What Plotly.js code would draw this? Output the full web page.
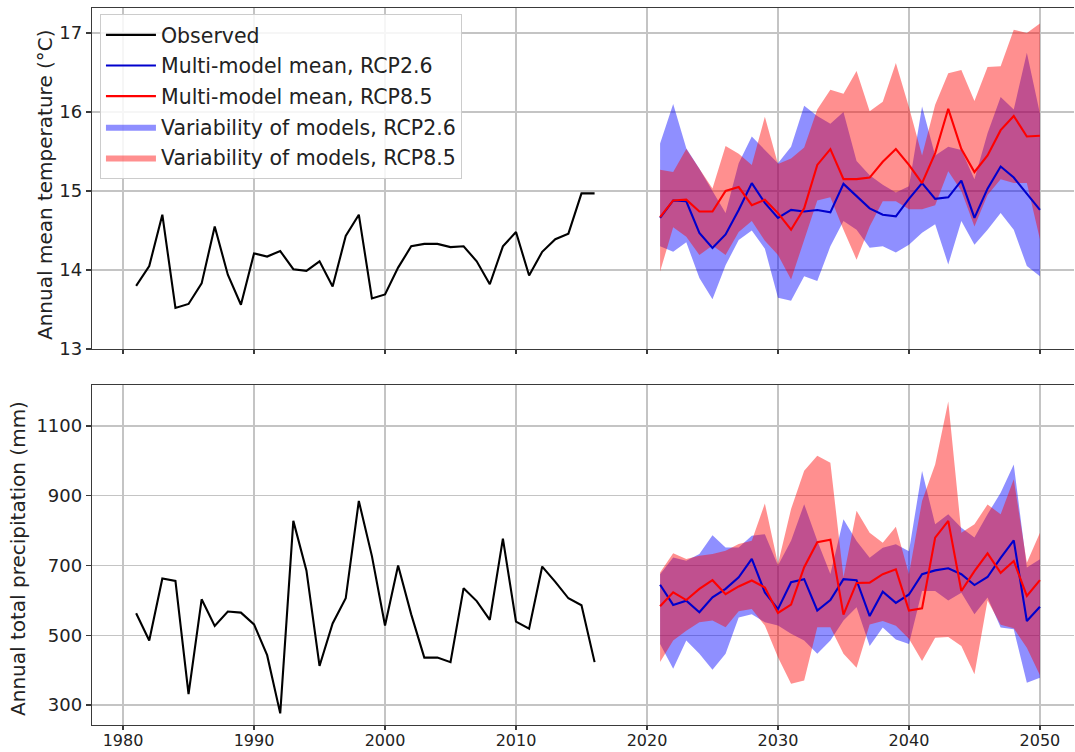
<!DOCTYPE html>
<html>
<head>
<meta charset="utf-8">
<script src="https://cdn.plot.ly/plotly-3.0.1.min.js"></script>
<style>
html, body { margin: 0; padding: 0; background: #ffffff; }
#chart { width: 1075px; height: 752px; }
</style>
</head>
<body>
<div id="chart"></div>
<script>
// ---------- Observed (1981-2016) ----------
const obsYears = [1981, 1982, 1983, 1984, 1985, 1986, 1987, 1988, 1989, 1990,
                  1991, 1992, 1993, 1994, 1995, 1996, 1997, 1998, 1999, 2000,
                  2001, 2002, 2003, 2004, 2005, 2006, 2007, 2008, 2009, 2010,
                  2011, 2012, 2013, 2014, 2015, 2016];
const obsTemp = [13.80, 14.05, 14.70, 13.52, 13.57, 13.83, 14.55, 13.94, 13.56, 14.21,
                 14.17, 14.24, 14.01, 13.99, 14.11, 13.79, 14.43, 14.70, 13.64, 13.69,
                 14.03, 14.30, 14.33, 14.33, 14.29, 14.30, 14.11, 13.82, 14.30, 14.48,
                 13.93, 14.23, 14.39, 14.46, 14.97, 14.97];
const obsPrecip = [563, 485, 663, 656, 331, 603, 527, 568, 565, 531,
                   443, 276, 828, 686, 412, 534, 606, 885, 727, 528,
                   700, 560, 436, 436, 423, 635, 598, 544, 777, 539,
                   519, 697, 653, 606, 586, 423];

// ---------- Projections (2021-2050) ----------
const projYears = [2021, 2022, 2023, 2024, 2025, 2026, 2027, 2028, 2029, 2030,
                   2031, 2032, 2033, 2034, 2035, 2036, 2037, 2038, 2039, 2040,
                   2041, 2042, 2043, 2044, 2045, 2046, 2047, 2048, 2049, 2050];

const tempMean26 = [14.66, 14.88, 14.87, 14.47, 14.28, 14.45, 14.76, 15.10, 14.85, 14.66,
                    14.76, 14.74, 14.76, 14.73, 15.09, 14.94, 14.78, 14.70, 14.68, 14.90,
                    15.10, 14.90, 14.92, 15.13, 14.66, 15.03, 15.31, 15.17, 14.96, 14.76];
const tempMean85 = [14.67, 14.88, 14.89, 14.74, 14.74, 15.00, 15.05, 14.82, 14.89, 14.72,
                    14.51, 14.78, 15.33, 15.53, 15.15, 15.15, 15.17, 15.37, 15.53, 15.33,
                    15.10, 15.48, 16.04, 15.53, 15.24, 15.45, 15.77, 15.95, 15.69, 15.70];
const tempLow26  = [14.30, 14.23, 14.35, 13.90, 13.63, 14.06, 14.38, 14.50, 14.27, 13.65,
                    13.61, 13.92, 13.86, 14.30, 14.62, 14.51, 14.28, 14.30, 14.22, 14.32,
                    14.47, 14.58, 14.07, 14.62, 14.32, 14.51, 14.72, 14.51, 14.05, 13.92];
const tempHigh26 = [15.60, 16.10, 15.54, 15.28, 15.00, 14.72, 15.35, 15.69, 15.52, 15.35,
                    15.56, 16.08, 15.95, 15.85, 16.00, 15.38, 15.20, 15.08, 14.98, 15.06,
                    16.07, 15.45, 15.56, 15.52, 15.15, 15.73, 16.19, 16.03, 16.75, 15.98];
const tempLow85  = [13.98, 14.54, 14.42, 14.19, 14.31, 14.19, 14.48, 14.62, 14.37, 14.19,
                    13.88, 14.39, 14.88, 14.92, 14.51, 14.13, 14.55, 14.87, 14.87, 14.77,
                    14.77, 14.82, 15.25, 15.00, 14.55, 14.95, 15.15, 15.10, 15.10, 14.39];
const tempHigh85 = [15.27, 15.24, 15.53, 15.28, 15.03, 15.57, 15.47, 15.33, 15.94, 15.34,
                    15.41, 15.55, 16.03, 16.28, 16.23, 16.52, 16.01, 16.13, 16.62, 16.06,
                    15.45, 16.09, 16.49, 16.53, 16.14, 16.57, 16.58, 17.04, 17.00, 17.12];

const precipMean26 = [645, 587, 599, 566, 609, 633, 666, 719, 623, 575,
                      652, 661, 571, 601, 661, 658, 555, 625, 593, 617,
                      675, 686, 692, 675, 644, 667, 722, 772, 541, 582];
const precipMean85 = [583, 623, 601, 633, 658, 618, 640, 657, 637, 564,
                      588, 695, 767, 774, 559, 650, 651, 675, 689, 571,
                      577, 780, 828, 627, 684, 735, 679, 713, 613, 658];
const precipLow26  = [475, 404, 485, 447, 401, 447, 551, 560, 537, 528,
                      504, 485, 447, 485, 542, 580, 469, 522, 488, 475,
                      627, 627, 600, 622, 560, 608, 522, 517, 364, 378];
const precipHigh26 = [675, 723, 714, 733, 787, 752, 752, 785, 790, 700,
                      771, 876, 771, 676, 833, 770, 722, 751, 761, 741,
                      971, 818, 847, 808, 780, 847, 909, 990, 694, 718];
const precipLow85  = [423, 485, 513, 537, 542, 523, 569, 575, 528, 437,
                      361, 370, 523, 523, 447, 407, 531, 541, 527, 490,
                      426, 493, 495, 469, 388, 600, 530, 520, 464, 385];
const precipHigh85 = [680, 735, 719, 728, 733, 742, 762, 771, 878, 704,
                      862, 972, 1015, 995, 666, 857, 794, 765, 811, 675,
                      885, 990, 1170, 794, 818, 875, 847, 947, 708, 794];

const xTicks = [1980, 1990, 2000, 2010, 2020, 2030, 2040, 2050];
const tempTicks = [13, 14, 15, 16, 17];
const precipTicks = [300, 500, 700, 900, 1100];

const labels = {
  obs: 'Observed',
  mean26: 'Multi-model mean, RCP2.6',
  mean85: 'Multi-model mean, RCP8.5',
  var26: 'Variability of models, RCP2.6',
  var85: 'Variability of models, RCP8.5'
};

// ---------- helpers ----------
function band(x, lo, hi) {
  return {
    x: x.concat(x.slice().reverse()),
    y: hi.concat(lo.slice().reverse())
  };
}

const BLUE_FILL = 'rgba(0,0,255,0.44)';
const RED_FILL = 'rgba(255,0,0,0.44)';
const BLUE_LINE = '#0000cd';
const RED_LINE = '#ff0000';
const LW = 2.1;

function panelTraces(xa, ya, obs, m26, m85, lo26, hi26, lo85, hi85, showLegend) {
  const b26 = band(projYears, lo26, hi26);
  const b85 = band(projYears, lo85, hi85);
  return [
    { type: 'scatter', mode: 'lines', x: b26.x, y: b26.y, fill: 'toself',
      fillcolor: BLUE_FILL, line: { width: 0, color: BLUE_FILL },
      name: labels.var26, legendgroup: 'g4', legendrank: 4,
      showlegend: showLegend, xaxis: xa, yaxis: ya, hoverinfo: 'skip' },
    { type: 'scatter', mode: 'lines', x: b85.x, y: b85.y, fill: 'toself',
      fillcolor: RED_FILL, line: { width: 0, color: RED_FILL },
      name: labels.var85, legendgroup: 'g5', legendrank: 5,
      showlegend: showLegend, xaxis: xa, yaxis: ya, hoverinfo: 'skip' },
    { type: 'scatter', mode: 'lines', x: obsYears, y: obs,
      line: { color: '#000000', width: LW },
      name: labels.obs, legendgroup: 'g1', legendrank: 1,
      showlegend: showLegend, xaxis: xa, yaxis: ya },
    { type: 'scatter', mode: 'lines', x: projYears, y: m26,
      line: { color: BLUE_LINE, width: LW },
      name: labels.mean26, legendgroup: 'g2', legendrank: 2,
      showlegend: showLegend, xaxis: xa, yaxis: ya },
    { type: 'scatter', mode: 'lines', x: projYears, y: m85,
      line: { color: RED_LINE, width: LW },
      name: labels.mean85, legendgroup: 'g3', legendrank: 3,
      showlegend: showLegend, xaxis: xa, yaxis: ya }
  ];
}

const data = []
  .concat(panelTraces('x', 'y', obsTemp, tempMean26, tempMean85,
                      tempLow26, tempHigh26, tempLow85, tempHigh85, true))
  .concat(panelTraces('x2', 'y2', obsPrecip, precipMean26, precipMean85,
                      precipLow26, precipHigh26, precipLow85, precipHigh85, false));

const FONT = 'DejaVu Sans, sans-serif';
const TICKFONT = { family: FONT, size: 18, color: '#222222' };
const XTICKFONT = { family: FONT, size: 16, color: '#222222' };
const GRID = '#c4c4c4';
const AXLINE = '#3a3a3a';
const X_RANGE = [1977.63, 2052.6];

const commonX = {
  range: X_RANGE, tickvals: xTicks, ticks: 'outside', ticklen: 4, tickwidth: 1.2,
  tickcolor: AXLINE, showgrid: true, gridcolor: GRID, gridwidth: 1.4,
  showline: true, linecolor: AXLINE, linewidth: 1.2, mirror: true,
  zeroline: false, tickfont: XTICKFONT
};
const commonY = {
  ticks: 'outside', ticklen: 5, tickwidth: 1.2, tickcolor: AXLINE,
  showgrid: true, gridcolor: GRID, gridwidth: 1.4,
  showline: true, linecolor: AXLINE, linewidth: 1.2, mirror: false,
  zeroline: false, tickfont: TICKFONT
};

const layout = {
  width: 1075, height: 752,
  margin: { l: 92, r: 1, t: 8, b: 27 },
  paper_bgcolor: '#ffffff', plot_bgcolor: '#ffffff',
  font: { family: FONT, size: 18, color: '#222222' },
  hovermode: false,
  xaxis: Object.assign({}, commonX, { anchor: 'y', showticklabels: false }),
  yaxis: Object.assign({}, commonY, { domain: [0.5244, 1], range: [13, 17.316], tickvals: tempTicks }),
  xaxis2: Object.assign({}, commonX, { anchor: 'y2', showticklabels: true, ticklabelstandoff: -3 }),
  yaxis2: Object.assign({}, commonY, { domain: [0, 0.4742], range: [242.7, 1217.6], tickvals: precipTicks }),
  legend: {
    x: 0.0081, y: 0.9916, xanchor: 'left', yanchor: 'top',
    bgcolor: 'rgba(255,255,255,0.85)', bordercolor: '#cccccc', borderwidth: 1,
    font: { family: FONT, size: 20.5, color: '#222222' },
    tracegroupgap: 1, traceorder: 'grouped', itemwidth: 50
  },
  annotations: [
    { text: 'Annual mean temperature (°C)', xref: 'paper', yref: 'paper',
      x: -0.0479, y: 0.7545, xanchor: 'center', yanchor: 'middle', textangle: -90,
      showarrow: false, font: { family: FONT, size: 20, color: '#222222' } },
    { text: 'Annual total precipitation (mm)', xref: 'paper', yref: 'paper',
      x: -0.0754, y: 0.2329, xanchor: 'center', yanchor: 'middle', textangle: -90,
      showarrow: false, font: { family: FONT, size: 20, color: '#222222' } }
  ]
};

Plotly.newPlot('chart', data, layout, { displayModeBar: false, staticPlot: true });
</script>
</body>
</html>
